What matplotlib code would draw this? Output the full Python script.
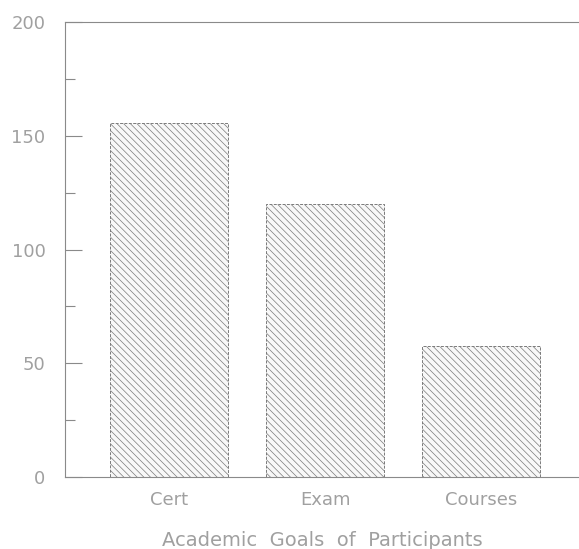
import matplotlib
matplotlib.use('Agg')
import matplotlib.pyplot as plt
from matplotlib.ticker import MultipleLocator

# Datos del gráfico
categorias = ['Cert', 'Exam', 'Courses']
valores = [155.5, 120, 57.5]
yticks = [0, 50, 100, 150, 200]

gris = '#8a8a8a'
texto = '#a0a0a0'
plt.rcParams['hatch.color'] = '#cdcdcd'
plt.rcParams['hatch.linewidth'] = 0.5

fig = plt.figure(figsize=(5.79, 5.49), dpi=100)
ax = fig.add_axes([0.1123, 0.1311, 0.8877, 0.8288])

x = range(len(categorias))
ax.bar(x, valores, width=0.756, color='#f8f8f8', edgecolor='#7a7a7a',
       hatch='\\\\\\\\\\', linewidth=0.7, linestyle=(0, (3, 1.5)))

ax.set_xlim(-0.667, 2.628)
ax.set_ylim(0, 200)
ax.set_xticks(list(x))
ax.set_xticklabels(categorias)
ax.set_yticks(yticks)
ax.yaxis.set_minor_locator(MultipleLocator(25))

ax.spines['right'].set_visible(False)
for s in ['left', 'top', 'bottom']:
    ax.spines[s].set_color(gris)
    ax.spines[s].set_linewidth(0.8)

ax.tick_params(axis='y', direction='in', length=12, width=0.8, color=gris,
               labelcolor=texto, labelsize=13, pad=14)
ax.tick_params(axis='y', which='minor', direction='in', length=7, width=0.8, color=gris)
ax.tick_params(axis='x', length=0, labelcolor=texto, labelsize=13, pad=10)

ax.set_xlabel('Academic  Goals  of  Participants', color=texto, fontsize=14, labelpad=16)

fig.savefig('out.png', dpi=100)
